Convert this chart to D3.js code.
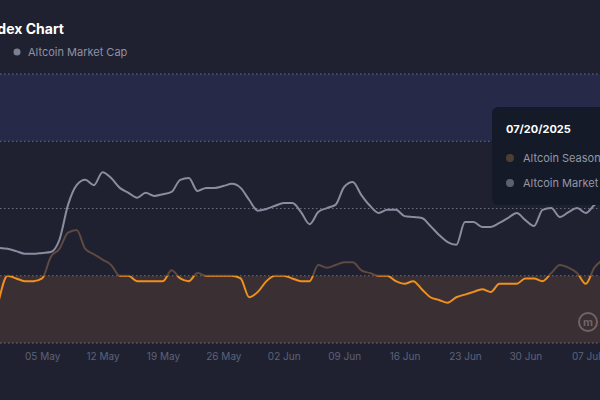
<!DOCTYPE html>
<html>
<head>
<meta charset="utf-8">
<script src="https://cdn.jsdelivr.net/npm/d3@7"></script>
<style>
body { margin: 0; background: #1f2130; }
svg { display: block; font-family: Inter, "Noto Sans", sans-serif; }
</style>
</head>
<body>
<svg class="canvas" width="600" height="400"></svg>
<script>
var startDate = '2025-04-30';
var seasonIndex = [16,25,24,23,23,24,32,35,41,42,35,33,31,29,25,25,23,23,23,23,27,24,23,26,25,25,25,25,24,17,19,23,25,25,24,23,23,29,28,29,30,30,27,26,25,25,23,22,23,20,17,16,15,17,18,19,20,19,22,22,22,24,24,23,26,29,28,26,22,28,31];
var marketCap = [1.112,1.110,1.105,1.099,1.099,1.101,1.103,1.130,1.208,1.252,1.264,1.252,1.281,1.268,1.246,1.235,1.224,1.235,1.228,1.232,1.237,1.264,1.268,1.239,1.246,1.246,1.250,1.255,1.246,1.219,1.195,1.199,1.206,1.212,1.212,1.192,1.165,1.192,1.201,1.208,1.248,1.259,1.230,1.206,1.190,1.197,1.197,1.183,1.181,1.179,1.161,1.141,1.125,1.119,1.170,1.170,1.159,1.159,1.168,1.179,1.190,1.174,1.161,1.197,1.201,1.181,1.192,1.201,1.190,1.208,1.224];
var indexTicks = [0,25,50,75,100];
var dateTicks = ['2025-05-05','2025-05-12','2025-05-19','2025-05-26','2025-06-02','2025-06-09','2025-06-16','2025-06-23','2025-06-30','2025-07-07'];

(function() {
var parse = d3.timeParse('%Y-%m-%d');
var t0 = parse(startDate);
var rows = seasonIndex.map(function(v, i) {
	return { date: d3.timeDay.offset(t0, i), idx: v, cap: marketCap[i] };
});

var svg = d3.select('.canvas');
var plotTop = 74, plotBottom = 343;

var x = d3.scaleTime()
	.domain([t0, d3.timeDay.offset(t0, 70)])
	.range([-1, 603]);
var y = d3.scaleLinear().domain([0, 100]).range([plotBottom, plotTop]);
var yCap = d3.scaleLinear().domain([0.9, 1.5]).range([plotBottom, plotTop]);

// bands
svg.append('rect').attr('x', 0).attr('width', 600)
	.attr('y', y(100)).attr('height', y(75) - y(100)).attr('fill', '#262947');
svg.append('rect').attr('x', 0).attr('width', 600)
	.attr('y', y(25)).attr('height', y(0) - y(25)).attr('fill', '#3a2f33');

// dotted grid
svg.selectAll('.grid').data(indexTicks).enter().append('line')
	.attr('x1', 0).attr('x2', 600)
	.attr('y1', function(d) { return y(d); }).attr('y2', function(d) { return y(d); })
	.attr('stroke', '#8c90a3').attr('stroke-opacity', 0.7)
	.attr('stroke-dasharray', '1.5,2.5');

// x axis labels
var xAxis = svg.append('g').attr('transform', 'translate(0,' + plotBottom + ')')
	.call(d3.axisBottom(x).tickValues(dateTicks.map(parse))
		.tickFormat(d3.timeFormat('%d %b')).tickSize(0).tickPadding(10));
xAxis.select('.domain').remove();
xAxis.selectAll('text').attr('fill', '#5d6279').style('font-size', '10px')
	.style('font-family', 'Inter, sans-serif');

// clips for index line
var defs = svg.append('defs');
defs.append('clipPath').attr('id', 'below').append('rect')
	.attr('x', 0).attr('width', 600).attr('y', y(25)).attr('height', 200);
defs.append('clipPath').attr('id', 'above').append('rect')
	.attr('x', 0).attr('width', 600).attr('y', 0).attr('height', y(25));

var idxLine = d3.line().curve(d3.curveMonotoneX)
	.x(function(d) { return x(d.date); }).y(function(d) { return y(d.idx); });
var capLine = d3.line().curve(d3.curveMonotoneX)
	.x(function(d) { return x(d.date); }).y(function(d) { return yCap(d.cap); });

svg.append('path').datum(rows).attr('d', idxLine).attr('fill', 'none')
	.attr('stroke', '#5e4a3f').attr('stroke-width', 2).attr('clip-path', 'url(#above)');
svg.append('path').datum(rows).attr('d', idxLine).attr('fill', 'none')
	.attr('stroke', '#f0901f').attr('stroke-width', 2).attr('clip-path', 'url(#below)');
svg.append('path').datum(rows).attr('d', capLine).attr('fill', 'none')
	.attr('stroke', '#8a8da0').attr('stroke-width', 2);

// title + legend
svg.append('text').attr('x', 64).attr('y', 34).attr('text-anchor', 'end')
	.attr('fill', '#ffffff').style('font-size', '14px').style('font-weight', 700)
	.text('Altcoin Season Index Chart');
svg.append('circle').attr('cx', 17).attr('cy', 52).attr('r', 3.5).attr('fill', '#7d8091');
svg.append('text').attr('x', 28).attr('y', 56).attr('fill', '#8e91a2')
	.style('font-size', '11px').text('Altcoin Market Cap');

// watermark
var logo = svg.append('g').attr('transform', 'translate(588,322)');
logo.append('circle').attr('r', 9).attr('fill', 'none').attr('stroke', '#6e6468').attr('stroke-width', 2);
logo.append('text').attr('text-anchor', 'middle').attr('y', 4).attr('fill', '#6e6468')
	.style('font-size', '11px').style('font-weight', 700).text('m');

// tooltip
var tip = svg.append('g').attr('transform', 'translate(492,107)');
tip.append('rect').attr('width', 130).attr('height', 98).attr('rx', 6).attr('fill', '#141a27');
tip.append('text').attr('x', 14).attr('y', 26).attr('fill', '#ffffff')
	.style('font-size', '11px').style('font-weight', 700).text('07/20/2025');
var tipItems = [['Altcoin Season Index', '#4e3d35'], ['Altcoin Market Cap', '#5d6070']];
tipItems.forEach(function(d, i) {
	tip.append('circle').attr('cx', 18).attr('cy', 51 + i * 25).attr('r', 4).attr('fill', d[1]);
	tip.append('text').attr('x', 31).attr('y', 55 + i * 25).attr('fill', '#9497a8')
		.style('font-size', '11px').text(d[0]);
});
})();
</script>
</body>
</html>
